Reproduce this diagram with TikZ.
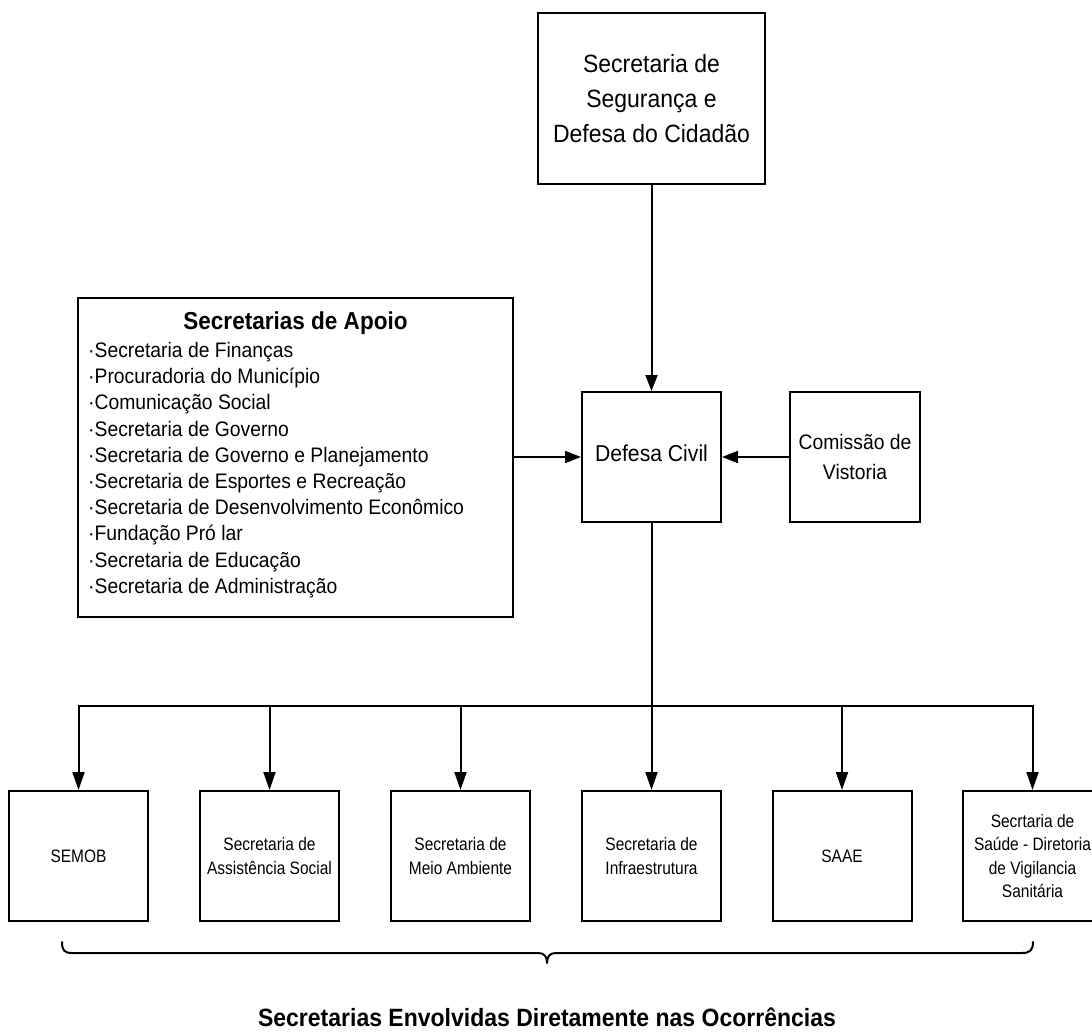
\documentclass[tikz,border=0pt]{standalone}
\usepackage{fontspec}
\setmainfont{Liberation Sans}[FakeStretch=0.92]
\newfontfamily\narrowsans{Liberation Sans}[FakeStretch=0.86]
\usetikzlibrary{arrows.meta}
\begin{document}
\begin{tikzpicture}[x=1pt,y=-1pt,
  box/.style={draw, line width=2pt, inner sep=0pt, align=center},
  bottombox/.style={box, minimum width=139pt, minimum height=130pt, font=\narrowsans\fontsize{18}{23.2}\selectfont},
  arr/.style={line width=2pt, -{Triangle[length=16pt,width=12pt]}},
  darr/.style={line width=2pt, -{Triangle[length=18pt,width=12pt]}},
  conn/.style={line width=2pt}]
\useasboundingbox (0,0) rectangle (1092,1032);
\clip (0,0) rectangle (1092,1032);

% top box
\node[box, minimum width=227pt, minimum height=171pt, font=\fontsize{25}{35}\selectfont] (top) at (651.5,99) {Secretaria de\\Segurança e\\Defesa do Cidadão};

% Defesa Civil
\node[box, minimum width=139pt, minimum height=130pt, font=\fontsize{23}{28}\selectfont, text height=9.4pt, text depth=0pt] (defesa) at (651.5,457) {Defesa Civil};

% Comissao
\node[box, minimum width=130pt, minimum height=130pt, font=\fontsize{21}{30}\selectfont] (comissao) at (855,457) {Comissão de\\Vistoria};

% Apoio box
\node[box, minimum width=435pt, minimum height=319pt] (apoio) at (295.5,457.5) {};
\node[font=\bfseries\fontsize{24.5}{29}\selectfont, anchor=base, inner sep=0pt] (apoiohead) at (295.5,329) {Secretarias de Apoio};
\foreach \t [count=\i] in {Secretaria de Finanças, Procuradoria do Município, Comunicação Social, Secretaria de Governo, Secretaria de Governo e Planejamento, Secretaria de Esportes e Recreação, Secretaria de Desenvolvimento Econômico, Fundação Pró lar, Secretaria de Educação, Secretaria de Administração}
  \node[anchor=base west, inner sep=0pt, font=\fontsize{21}{26}\selectfont] (item\i) at (88,{357.5+26.2*(\i-1)}) {·\t};

% bottom boxes
\node[bottombox] (b1) at (78.5,856) {SEMOB};
\node[bottombox] (b2) at (269.5,856) {Secretaria de\\Assistência Social};
\node[bottombox] (b3) at (460.5,856) {Secretaria de\\Meio Ambiente};
\node[bottombox] (b4) at (651.5,856) {Secretaria de\\Infraestrutura};
\node[bottombox] (b5) at (842,856) {SAAE};
\node[bottombox] (b6) at (1032.5,856) {Secrtaria de\\Saúde - Diretoria\\de Vigilancia\\Sanitária};

% connectors
\draw[arr] (top.south) -- (defesa.north);
\draw[arr] (apoio.east |- defesa.west) -- (defesa.west);
\draw[arr] (comissao.west) -- (defesa.east);
\coordinate (bus) at (651.5,706);
\draw[conn] (defesa.south) -- (bus);
\foreach \b in {b1,b2,b3,b4,b5,b6}
  \draw[darr] (bus) -| (\b.north);

% brace
\draw[line width=2pt, line cap=round, line join=round] (62,942) .. controls (62,950) and (64,953) .. (72,953) -- (538,953) .. controls (544,953) and (547,956) .. (547,963) .. controls (547,956) and (550,953) .. (556,953) -- (1022,953) .. controls (1030,953) and (1033,950) .. (1033,942);

% caption
\node[font=\bfseries\fontsize{25}{30}\selectfont, anchor=base, inner sep=0pt] (caption) at (547,1026) {Secretarias Envolvidas Diretamente nas Ocorrências};
\end{tikzpicture}
\end{document}
